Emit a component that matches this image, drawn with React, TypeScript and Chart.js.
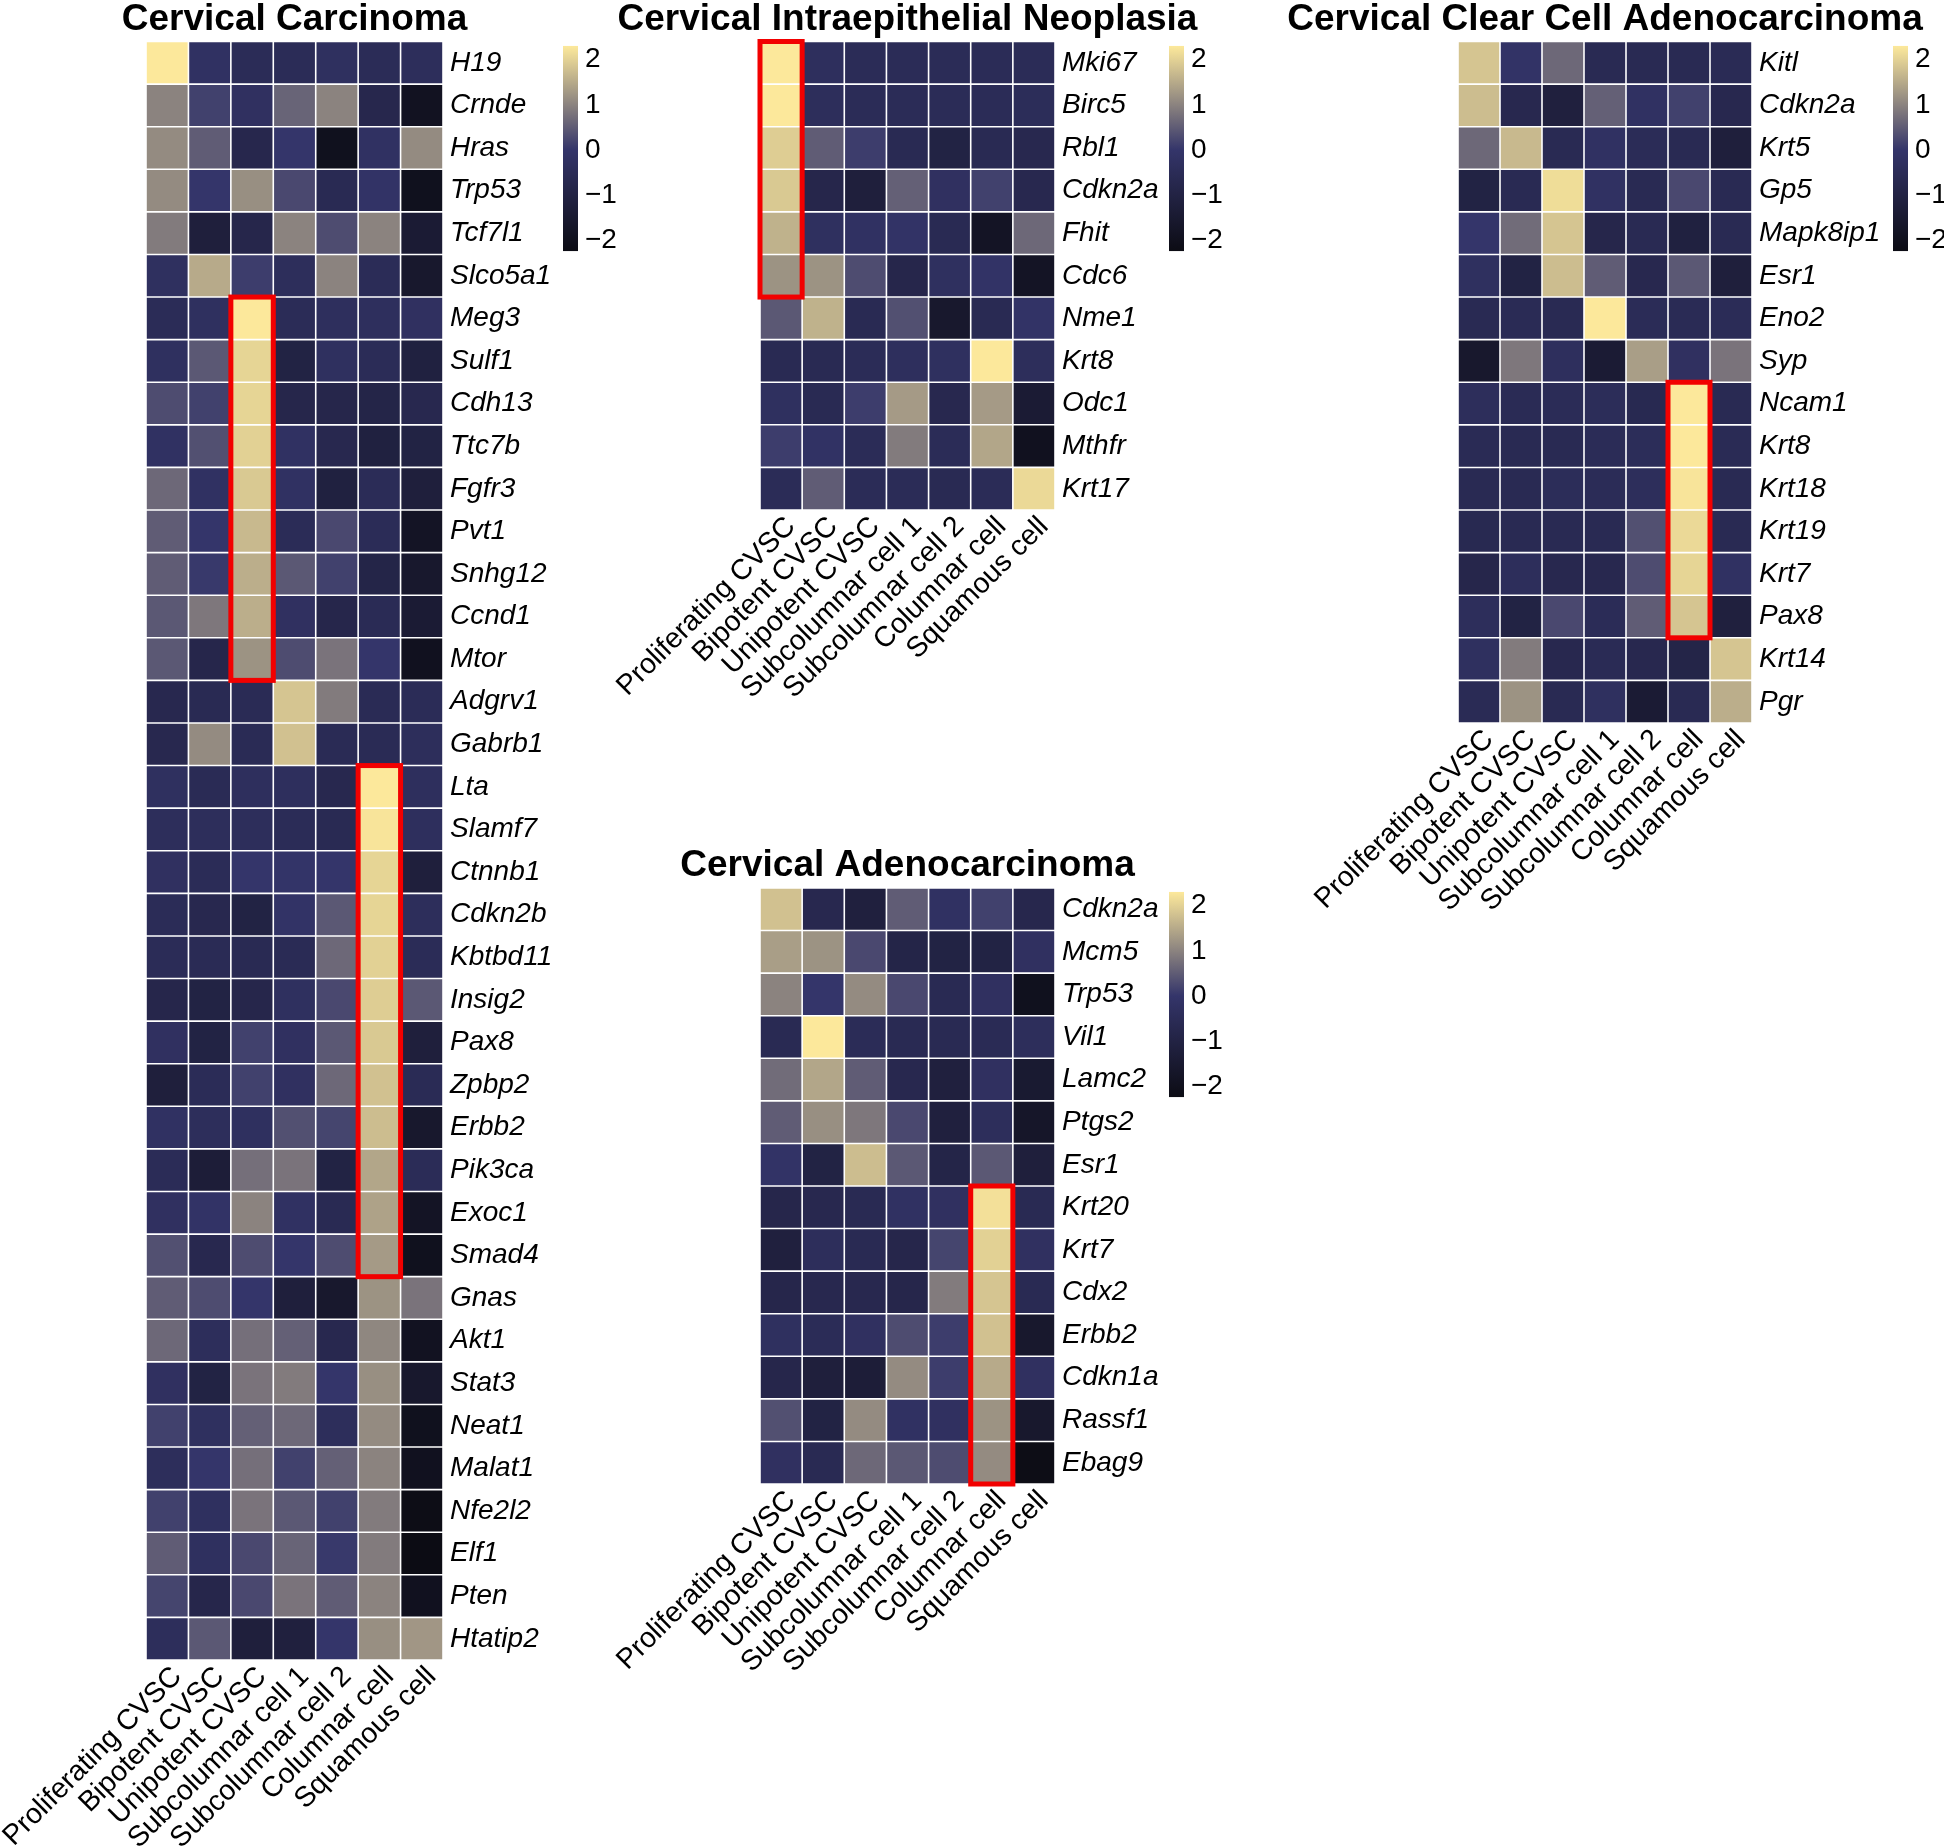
import React, { useEffect, useRef } from 'react';
import { Chart, registerables } from 'chart.js';

Chart.register(...registerables);

// ---------------- DATA ----------------
const CELL_TYPES = [
  'Proliferating CVSC',
  'Bipotent CVSC',
  'Unipotent CVSC',
  'Subcolumnar cell 1',
  'Subcolumnar cell 2',
  'Columnar cell',
  'Squamous cell',
];

const CC_TITLE = 'Cervical Carcinoma';
const CC_GENES = ['H19', 'Crnde', 'Hras', 'Trp53', 'Tcf7l1', 'Slco5a1', 'Meg3', 'Sulf1', 'Cdh13', 'Ttc7b', 'Fgfr3', 'Pvt1', 'Snhg12', 'Ccnd1', 'Mtor', 'Adgrv1', 'Gabrb1', 'Lta', 'Slamf7', 'Ctnnb1', 'Cdkn2b', 'Kbtbd11', 'Insig2', 'Pax8', 'Zpbp2', 'Erbb2', 'Pik3ca', 'Exoc1', 'Smad4', 'Gnas', 'Akt1', 'Stat3', 'Neat1', 'Malat1', 'Nfe2l2', 'Elf1', 'Pten', 'Htatip2'];
const CC_VALUES = [
  [2.3, -0.2, -0.5, -0.5, -0.3, -0.5, -0.4],
  [1.0, 0.15, -0.25, 0.6, 1.0, -0.75, -1.9],
  [1.1, 0.5, -0.75, 0.0, -2.0, -0.2, 1.1],
  [1.1, 0.0, 1.15, 0.25, -0.6, -0.1, -2.0],
  [0.9, -1.2, -0.8, 1.0, 0.3, 1.0, -1.4],
  [-0.3, 1.5, 0.1, -0.4, 1.0, -0.5, -1.6],
  [-0.5, -0.3, 2.3, -0.5, -0.35, -0.35, -0.25],
  [-0.3, 0.45, 2.05, -1.0, -0.3, -0.5, -1.1],
  [0.3, 0.15, 2.05, -0.8, -0.8, -0.9, -0.7],
  [-0.2, 0.35, 2.0, -0.2, -0.7, -1.1, -1.0],
  [0.65, -0.2, 1.9, -0.2, -1.1, -0.5, -1.2],
  [0.5, 0.0, 1.7, -0.5, 0.25, -0.5, -1.8],
  [0.5, 0.05, 1.55, 0.45, 0.15, -0.9, -1.6],
  [0.45, 0.85, 1.55, -0.25, -0.8, -0.55, -1.4],
  [0.45, -0.8, 1.2, 0.3, 0.8, 0.0, -1.95],
  [-0.7, -0.6, -0.55, 1.85, 0.9, -0.55, -0.5],
  [-0.7, 1.1, -0.55, 1.8, -0.55, -0.55, -0.4],
  [-0.3, -0.55, -0.35, -0.35, -0.7, 2.3, -0.35],
  [-0.4, -0.4, -0.4, -0.5, -0.6, 2.25, -0.35],
  [-0.25, -0.5, 0.0, -0.05, 0.0, 2.05, -1.2],
  [-0.5, -0.7, -1.0, -0.1, 0.45, 2.05, -0.4],
  [-0.5, -0.55, -0.6, -0.55, 0.65, 2.0, -0.5],
  [-0.8, -1.0, -0.8, -0.3, 0.25, 1.95, 0.45],
  [-0.25, -1.0, 0.15, -0.25, 0.45, 1.9, -1.2],
  [-1.2, -0.5, 0.15, -0.25, 0.65, 1.8, -0.55],
  [-0.2, -0.4, -0.3, 0.35, 0.2, 1.75, -1.6],
  [-0.5, -1.3, 0.75, 0.8, -1.0, 1.45, -0.5],
  [-0.25, -0.1, 1.0, -0.2, -0.6, 1.4, -1.8],
  [0.35, -0.7, 0.3, 0.0, 0.3, 1.3, -2.0],
  [0.5, 0.3, 0.0, -1.2, -1.6, 1.2, 0.8],
  [0.65, -0.4, 0.75, 0.55, -0.7, 1.05, -1.9],
  [-0.25, -1.0, 0.8, 0.9, 0.0, 1.15, -1.6],
  [0.15, -0.3, 0.55, 0.65, -0.4, 1.1, -2.0],
  [-0.4, 0.0, 0.75, 0.15, 0.55, 1.0, -1.95],
  [0.15, -0.3, 0.8, 0.45, 0.15, 0.9, -2.2],
  [0.5, -0.3, 0.25, 0.6, 0.05, 0.9, -2.25],
  [0.2, -0.8, 0.25, 0.8, 0.5, 1.0, -1.95],
  [-0.4, 0.45, -1.2, -1.15, 0.0, 1.15, 1.25],
];
const CC_BOXES = [
  { col: 2, from: 6, to: 14 },
  { col: 5, from: 17, to: 28 },
];

const CIN_TITLE = 'Cervical Intraepithelial Neoplasia';
const CIN_GENES = ['Mki67', 'Birc5', 'Rbl1', 'Cdkn2a', 'Fhit', 'Cdc6', 'Nme1', 'Krt8', 'Odc1', 'Mthfr', 'Krt17'];
const CIN_VALUES = [
  [2.3, -0.35, -0.5, -0.5, -0.5, -0.5, -0.5],
  [2.3, -0.4, -0.5, -0.5, -0.5, -0.5, -0.45],
  [1.95, 0.5, 0.1, -0.6, -1.0, -0.6, -0.7],
  [1.9, -0.8, -1.2, 0.55, -0.25, 0.15, -0.7],
  [1.6, -0.3, -0.2, -0.1, -0.6, -1.8, 0.65],
  [1.2, 1.2, 0.3, -0.8, -0.3, -0.1, -1.8],
  [0.45, 1.6, -0.6, 0.35, -1.6, -0.6, -0.1],
  [-0.6, -0.6, -0.5, -0.35, -0.3, 2.3, -0.4],
  [-0.3, -0.6, 0.1, 1.3, -0.7, 1.3, -1.4],
  [0.1, -0.15, -0.5, 0.9, -0.5, 1.45, -1.95],
  [-0.5, 0.5, -0.5, -0.5, -0.6, -0.5, 2.1],
];
const CIN_BOXES = [{ col: 0, from: 0, to: 5 }];

const AC_TITLE = 'Cervical Adenocarcinoma';
const AC_GENES = ['Cdkn2a', 'Mcm5', 'Trp53', 'Vil1', 'Lamc2', 'Ptgs2', 'Esr1', 'Krt20', 'Krt7', 'Cdx2', 'Erbb2', 'Cdkn1a', 'Rassf1', 'Ebag9'];
const AC_VALUES = [
  [1.8, -0.7, -1.15, 0.5, -0.2, 0.15, -0.75],
  [1.35, 1.2, 0.25, -0.9, -1.0, -1.0, -0.25],
  [1.0, 0.0, 1.1, 0.25, -0.6, -0.25, -2.0],
  [-0.6, 2.3, -0.5, -0.6, -0.6, -0.55, -0.4],
  [0.7, 1.45, 0.5, -0.7, -1.15, -0.25, -1.5],
  [0.5, 1.15, 0.85, 0.25, -1.15, -0.4, -1.7],
  [-0.1, -1.0, 1.75, 0.45, -0.9, 0.45, -1.2],
  [-0.8, -0.7, -0.6, -0.2, -0.25, 2.2, -0.6],
  [-1.15, -0.4, -0.6, -0.8, 0.2, 2.0, -0.25],
  [-0.8, -0.7, -0.7, -0.8, 0.9, 1.85, -0.6],
  [-0.3, -0.5, -0.25, 0.3, 0.1, 1.8, -1.6],
  [-0.8, -1.2, -1.3, 1.1, 0.1, 1.5, -0.25],
  [0.35, -1.0, 1.1, -0.2, -0.25, 1.2, -1.6],
  [-0.25, -0.6, 0.65, 0.45, 0.3, 1.1, -2.2],
];
const AC_BOXES = [{ col: 5, from: 7, to: 13 }];

const CCA_TITLE = 'Cervical Clear Cell Adenocarcinoma';
const CCA_GENES = ['Kitl', 'Cdkn2a', 'Krt5', 'Gp5', 'Mapk8ip1', 'Esr1', 'Eno2', 'Syp', 'Ncam1', 'Krt8', 'Krt18', 'Krt19', 'Krt7', 'Pax8', 'Krt14', 'Pgr'];
const CCA_VALUES = [
  [1.85, -0.1, 0.65, -0.6, -0.6, -0.6, -0.55],
  [1.75, -0.7, -1.15, 0.55, -0.2, 0.15, -0.7],
  [0.65, 1.7, -0.6, -0.2, -0.5, -0.6, -1.2],
  [-1.0, -0.6, 2.15, -0.2, -0.6, 0.25, -0.6],
  [0.0, 0.7, 1.85, -0.8, -0.6, -1.1, -0.6],
  [-0.3, -1.0, 1.75, 0.5, -0.7, 0.45, -1.2],
  [-0.6, -0.55, -0.6, 2.3, -0.5, -0.55, -0.5],
  [-1.6, 0.85, -0.35, -1.4, 1.35, -0.25, 0.8],
  [-0.4, -0.55, -0.5, -0.45, -0.65, 2.3, -0.6],
  [-0.55, -0.6, -0.6, -0.5, -0.45, 2.3, -0.55],
  [-0.6, -0.6, -0.45, -0.5, -0.4, 2.25, -0.6],
  [-0.65, -0.6, -0.6, -0.6, 0.35, 2.1, -0.6],
  [-0.8, -0.4, -0.7, -0.7, 0.3, 2.05, -0.2],
  [-0.4, -1.0, 0.25, -0.5, 0.5, 1.85, -1.15],
  [-0.3, 0.9, -0.7, -0.55, -0.7, -0.9, 1.85],
  [-0.55, 1.2, -0.6, -0.3, -1.4, -0.6, 1.55],
];
const CCA_BOXES = [{ col: 5, from: 8, to: 13 }];

const COLORBAR_TICKS = [-2, -1, 0, 1, 2];
const SCALE_MIN = -2.25;
const SCALE_MAX = 2.31;
const COLOR_STOP_VALUES = [-2.25, 0, 2.31];
const COLOR_STOP_RGB = [
  [12, 12, 20],
  [52, 53, 106],
  [253, 233, 155],
];

// ---------------- HELPERS ----------------
const FONT = '"Liberation Sans", Arial, Helvetica, sans-serif';
const ROW_H = 42.6;

function colorFor(v: number): string {
  const vals = COLOR_STOP_VALUES;
  const c = COLOR_STOP_RGB;
  if (v <= vals[0]) return `rgb(${c[0].join(',')})`;
  if (v >= vals[vals.length - 1]) return `rgb(${c[c.length - 1].join(',')})`;
  for (let i = 0; i < vals.length - 1; i++) {
    if (v >= vals[i] && v <= vals[i + 1]) {
      const t = (v - vals[i]) / (vals[i + 1] - vals[i]);
      const rgb = c[i].map((a, k) => Math.round(a + (c[i + 1][k] - a) * t));
      return `rgb(${rgb.join(',')})`;
    }
  }
  return 'black';
}

function fmtTick(v: number): string {
  return v < 0 ? '\u2212' + Math.abs(v) : String(v);
}

type Box = { col: number; from: number; to: number };

type HeatProps = {
  title: string;
  genes: string[];
  values: number[][];
  boxes: Box[];
  canvasLeft: number;
  canvasTop: number;
  gridLeft: number;
  gridRight: number;
  gridTop: number;
  yAxisW: number;
  xAxisH: number;
};

function Heatmap(p: HeatProps) {
  const ref = useRef<HTMLCanvasElement | null>(null);
  const n = p.genes.length;
  const width = Math.round(p.gridRight - p.canvasLeft + p.yAxisW);
  const gridBottom = p.gridTop + n * ROW_H;
  const height = Math.round(gridBottom - p.canvasTop + p.xAxisH);

  useEffect(() => {
    const canvas = ref.current;
    if (!canvas) return;
    const datasets = p.genes.map((g, r) => ({
      label: g,
      data: CELL_TYPES.map(() => 1),
      backgroundColor: p.values[r].map((v) => colorFor(v)),
      borderColor: '#ffffff',
      borderWidth: 0.8,
      borderSkipped: false as const,
      inflateAmount: 0,
      barPercentage: 1,
      categoryPercentage: 1,
    }));

    const overlay = {
      id: 'overlay',
      afterDatasetsDraw(chart: any) {
        const { ctx, scales } = chart;
        const x = scales.x;
        const y = scales.y;
        const half = (x.getPixelForValue(1) - x.getPixelForValue(0)) / 2;
        ctx.save();
        ctx.strokeStyle = '#f20000';
        ctx.lineWidth = 5;
        p.boxes.forEach((b) => {
          const cx = x.getPixelForValue(b.col);
          const y0 = y.getPixelForValue(b.from);
          const y1 = y.getPixelForValue(b.to + 1);
          ctx.strokeRect(cx - half, y0, 2 * half, y1 - y0);
        });
        ctx.restore();
      },
      afterDraw(chart: any) {
        const { ctx, chartArea } = chart;
        ctx.save();
        ctx.fillStyle = '#000';
        ctx.font = `bold 37px ${FONT}`;
        ctx.textAlign = 'center';
        ctx.textBaseline = 'alphabetic';
        ctx.fillText(p.title, (chartArea.left + chartArea.right) / 2, chartArea.top - 12);
        ctx.restore();
      },
    };

    const chart = new Chart(canvas, {
      type: 'bar',
      data: { labels: CELL_TYPES, datasets },
      options: {
        animation: false,
        responsive: false,
        maintainAspectRatio: false,
        layout: {
          autoPadding: false,
          padding: {
            left: p.gridLeft - p.canvasLeft,
            top: p.gridTop - p.canvasTop,
            right: 0,
            bottom: 0,
          },
        },
        plugins: {
          legend: { display: false },
          tooltip: { enabled: false },
          title: { display: false },
        },
        scales: {
          x: {
            type: 'category',
            stacked: true,
            grid: { display: false, drawTicks: false },
            border: { display: false },
            ticks: {
              autoSkip: false,
              maxRotation: 45,
              minRotation: 45,
              padding: 0,
              labelOffset: 10,
              color: '#000',
              font: { family: FONT, size: 28.5 },
            },
            afterFit: (s: any) => {
              s.height = p.xAxisH;
            },
          },
          y: {
            type: 'linear',
            position: 'right',
            stacked: true,
            reverse: true,
            min: 0,
            max: n,
            grid: { display: false, drawTicks: false },
            border: { display: false },
            afterBuildTicks: (s: any) => {
              s.ticks = p.genes.map((_, i) => ({ value: i + 0.5 }));
            },
            ticks: {
              autoSkip: false,
              padding: 7,
              color: '#000',
              font: { family: FONT, size: 28, style: 'italic' },
              callback: (v: any) => p.genes[Math.floor(Number(v))],
            },
            afterFit: (s: any) => {
              s.width = p.yAxisW;
            },
          },
        },
      },
      plugins: [overlay],
    } as any);
    return () => chart.destroy();
  }, []);

  return (
    <canvas
      ref={ref}
      width={width}
      height={height}
      style={{ position: 'absolute', left: p.canvasLeft, top: p.canvasTop, width, height }}
    />
  );
}

type BarProps = { left: number; top: number; height: number };

function ColorBar({ left, top, height }: BarProps) {
  const ref = useRef<HTMLCanvasElement | null>(null);
  const pad = 20;
  const barW = 15;
  const axisW = 60;
  const cw = barW + axisW;
  const ch = height + pad * 2;
  useEffect(() => {
    const canvas = ref.current;
    if (!canvas) return;
    const chart = new Chart(canvas, {
      type: 'bar',
      data: {
        labels: [''],
        datasets: [
          {
            data: [[SCALE_MIN, SCALE_MAX]],
            barPercentage: 1,
            categoryPercentage: 1,
            borderWidth: 0,
            inflateAmount: 0,
            backgroundColor: (ctx: any) => {
              const c = ctx.chart;
              if (!c.chartArea) return 'rgba(0,0,0,0)';
              const ys = c.scales.y;
              const y0 = ys.getPixelForValue(SCALE_MIN);
              const y1 = ys.getPixelForValue(SCALE_MAX);
              const g = c.ctx.createLinearGradient(0, y0, 0, y1);
              COLOR_STOP_VALUES.forEach((v) => {
                g.addColorStop((v - SCALE_MIN) / (SCALE_MAX - SCALE_MIN), colorFor(v));
              });
              return g;
            },
          },
        ],
      },
      options: {
        animation: false,
        responsive: false,
        maintainAspectRatio: false,
        layout: { autoPadding: false, padding: { left: 0, top: pad, bottom: pad, right: 0 } },
        plugins: { legend: { display: false }, tooltip: { enabled: false } },
        scales: {
          x: { display: false },
          y: {
            type: 'linear',
            position: 'right',
            min: SCALE_MIN,
            max: SCALE_MAX,
            grid: { display: false, drawTicks: false },
            border: { display: false },
            afterBuildTicks: (s: any) => {
              s.ticks = COLORBAR_TICKS.map((v) => ({ value: v }));
            },
            ticks: {
              padding: 7,
              color: '#000',
              font: { family: FONT, size: 28 },
              callback: (v: any) => fmtTick(Number(v)),
            },
            afterFit: (s: any) => {
              s.width = axisW;
            },
          },
        },
      },
    } as any);
    return () => chart.destroy();
  }, []);
  return (
    <canvas
      ref={ref}
      width={cw}
      height={ch}
      style={{ position: 'absolute', left, top: top - pad, width: cw, height: ch }}
    />
  );
}

export default function App() {
  return (
    <div
      style={{
        position: 'absolute',
        left: 0,
        top: 0,
        width: 1944,
        height: 1846,
        overflow: 'hidden',
        background: '#fff',
      }}
    >
      <Heatmap
        title={CC_TITLE}
        genes={CC_GENES}
        values={CC_VALUES}
        boxes={CC_BOXES}
        canvasLeft={-80}
        canvasTop={0}
        gridLeft={146}
        gridRight={443}
        gridTop={41.5}
        yAxisW={118}
        xAxisH={186}
      />
      <Heatmap
        title={CIN_TITLE}
        genes={CIN_GENES}
        values={CIN_VALUES}
        boxes={CIN_BOXES}
        canvasLeft={540}
        canvasTop={0}
        gridLeft={760}
        gridRight={1055}
        gridTop={41.5}
        yAxisW={145}
        xAxisH={220}
      />
      <Heatmap
        title={AC_TITLE}
        genes={AC_GENES}
        values={AC_VALUES}
        boxes={AC_BOXES}
        canvasLeft={540}
        canvasTop={830}
        gridLeft={760}
        gridRight={1055}
        gridTop={888}
        yAxisW={110}
        xAxisH={215}
      />
      <Heatmap
        title={CCA_TITLE}
        genes={CCA_GENES}
        values={CCA_VALUES}
        boxes={CCA_BOXES}
        canvasLeft={1230}
        canvasTop={0}
        gridLeft={1458}
        gridRight={1752}
        gridTop={41.5}
        yAxisW={190}
        xAxisH={220}
      />
      <ColorBar left={563} top={41.5} height={213} />
      <ColorBar left={1169} top={41.5} height={213} />
      <ColorBar left={1169} top={888} height={213} />
      <ColorBar left={1893} top={41.5} height={213} />
    </div>
  );
}
